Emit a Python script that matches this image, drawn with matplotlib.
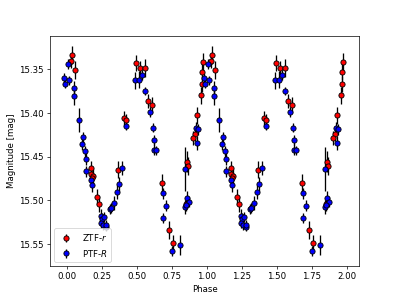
import numpy as np
import matplotlib
matplotlib.use('Agg')
import matplotlib.pyplot as plt

# ZTF-r : phase, magnitude, error
ztf_phase = [0.036, 0.031, 0.057, 0.171, 0.176, 0.188, 0.183, 0.216, 0.229, 0.369,
             0.411, 0.426, 0.497, 0.521, 0.561, 0.583, 0.611, 0.679, 0.729, 0.759,
             0.861, 0.869, 0.850, 0.929, 0.916, 0.904, 0.957, 0.970, 0.964, 0.976]
ztf_mag = [15.334, 15.341, 15.351, 15.463, 15.470, 15.472, 15.475, 15.496, 15.504, 15.465,
           15.406, 15.408, 15.343, 15.349, 15.349, 15.387, 15.391, 15.480, 15.534, 15.549,
           15.456, 15.461, 15.504, 15.403, 15.424, 15.429, 15.380, 15.367, 15.353, 15.342]
ztf_err = [0.010, 0.008, 0.010, 0.008, 0.008, 0.008, 0.008, 0.009, 0.009, 0.010,
           0.008, 0.007, 0.009, 0.008, 0.010, 0.008, 0.009, 0.010, 0.010, 0.009,
           0.012, 0.010, 0.008, 0.010, 0.008, 0.008, 0.010, 0.009, 0.009, 0.010]

# PTF-R
ptf_phase = [0.009, -0.019, -0.010, 0.019, 0.054, 0.054, 0.086, 0.116, 0.109, 0.129,
             0.136, 0.140, 0.174, 0.183, 0.247, 0.254, 0.266, 0.247, 0.261, 0.279,
             0.281, 0.309, 0.319, 0.336, 0.361, 0.374, 0.393, 0.426, 0.490, 0.514,
             0.540, 0.561, 0.595, 0.616, 0.621, 0.624, 0.640, 0.690, 0.707, 0.690,
             0.754, 0.811, 0.847, 0.859, 0.871, 0.845, 0.852, 0.924, 0.940, 0.929]
ptf_mag = [15.344, 15.360, 15.367, 15.363, 15.372, 15.381, 15.408, 15.428, 15.436, 15.444,
           15.453, 15.467, 15.477, 15.483, 15.518, 15.521, 15.519, 15.526, 15.528, 15.530,
           15.528, 15.510, 15.509, 15.503, 15.490, 15.481, 15.463, 15.415, 15.363, 15.362,
           15.357, 15.375, 15.399, 15.417, 15.431, 15.442, 15.443, 15.492, 15.506, 15.520,
           15.558, 15.551, 15.464, 15.497, 15.502, 15.508, 15.505, 15.417, 15.419, 15.435]
ptf_err = [0.006, 0.005, 0.005, 0.005, 0.008, 0.010, 0.014, 0.006, 0.006, 0.006,
           0.007, 0.006, 0.007, 0.007, 0.008, 0.006, 0.006, 0.006, 0.006, 0.005,
           0.005, 0.006, 0.006, 0.008, 0.008, 0.008, 0.008, 0.005, 0.010, 0.010,
           0.006, 0.005, 0.006, 0.005, 0.006, 0.006, 0.005, 0.006, 0.006, 0.006,
           0.006, 0.011, 0.025, 0.008, 0.006, 0.008, 0.006, 0.006, 0.006, 0.008]

ztf_phase = np.array(ztf_phase)
ptf_phase = np.array(ptf_phase)

fig, ax = plt.subplots(figsize=(6.4, 4.8), dpi=62.35)

for k in range(2):
    ax.errorbar(ztf_phase + k, ztf_mag, yerr=ztf_err, fmt='o', color='red',
                mec='k', ecolor='k', label='ZTF-$r$' if k == 0 else None)
for k in range(2):
    ax.errorbar(ptf_phase + k, ptf_mag, yerr=ptf_err, fmt='o', color='blue',
                mec='k', ecolor='k', label='PTF-$R$' if k == 0 else None)

ax.set_xlim(-0.12, 2.089)
ax.set_ylim(15.5752, 15.3118)
ax.set_xlabel('Phase')
ax.set_ylabel('Magnitude [mag]')
ax.legend(loc='lower left')

plt.savefig('out.png')
